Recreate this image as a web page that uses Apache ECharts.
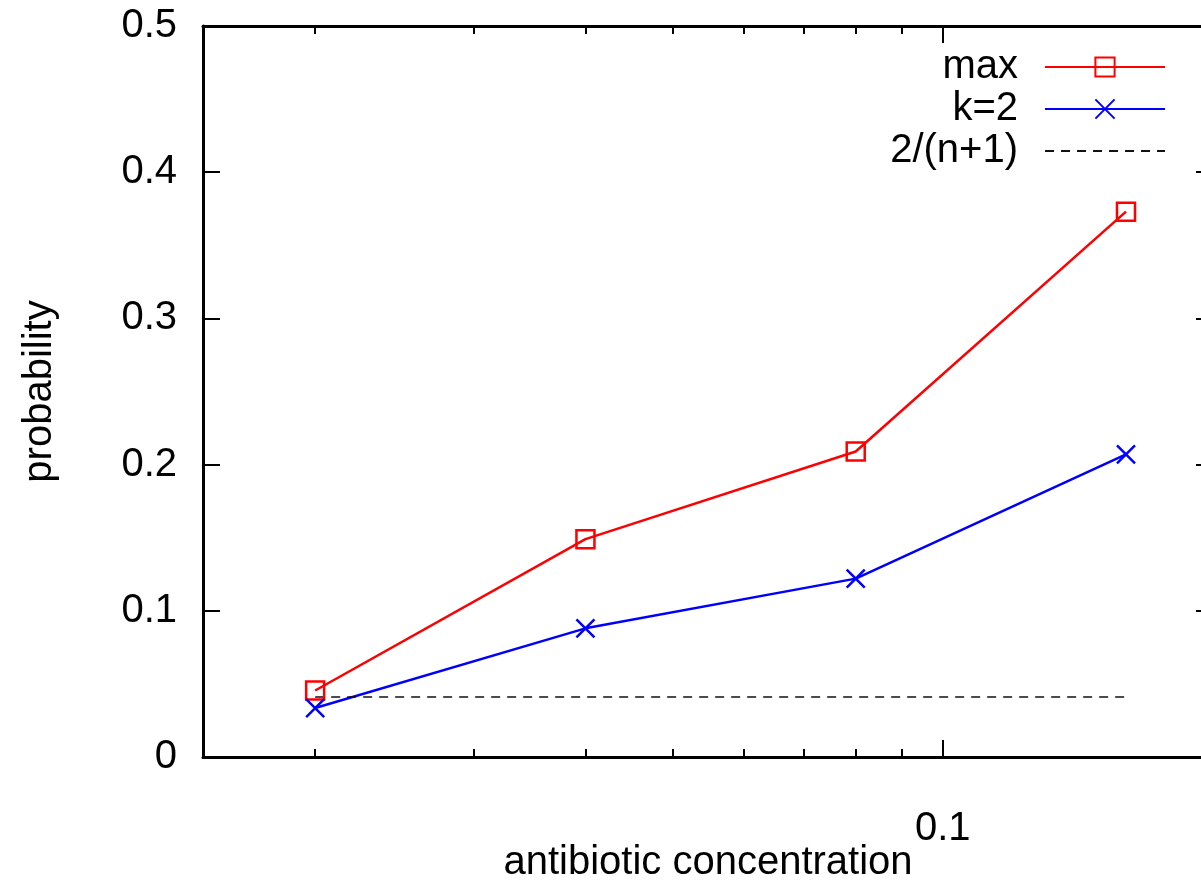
<!DOCTYPE html>
<html><head><meta charset="utf-8">
<script src="https://cdn.jsdelivr.net/npm/echarts@6/dist/echarts.min.js"></script>
<style>html,body{margin:0;padding:0;background:#fff}#c{width:1201px;height:880px}</style>
</head><body><div id="c"></div>
<script>
const concentrations = [0.02, 0.04, 0.08, 0.16];
const maxValues = [0.0455, 0.149, 0.209, 0.373];
const k2Values = [0.0335, 0.088, 0.122, 0.207];
const baselineValue = 0.041; // 2/(n+1)
const majorXTicks = [0.1];
const minorXTicks = [0.02, 0.03, 0.04, 0.05, 0.06, 0.07, 0.08, 0.09];
const seriesNames = ['max', 'k=2', '2/(n+1)'];

const FONT = 'Liberation Sans, Arial, Helvetica, sans-serif';
const FS = 40;
const xMin = 0.015, xMax = 0.2;

function xAxisBase(pos, showLine, ticks, len, labels) {
  return {
    type: 'log', logBase: 10, min: xMin, max: xMax, position: pos, gridIndex: 0,
    axisLine: {show: showLine, lineStyle: {color: '#000', width: 3}},
    axisTick: {show: true, inside: true, length: len, customValues: ticks, lineStyle: {color: '#000', width: 2}},
    axisLabel: labels ? {show: true, customValues: majorXTicks, color: '#000', fontFamily: FONT, fontSize: FS, margin: 52,
      formatter: v => String(+(+v).toPrecision(6))} : {show: false},
    splitLine: {show: false}, minorTick: {show: false}, minorSplitLine: {show: false}
  };
}

const xAxes = [
  Object.assign(xAxisBase('bottom', true, majorXTicks, 17, true), {
    name: 'antibiotic concentration', nameLocation: 'middle', nameGap: 86, nameMoveOverlap: false,
    nameTextStyle: {color: '#000', fontFamily: FONT, fontSize: FS}
  }),
  xAxisBase('bottom', false, minorXTicks, 8, false),
  xAxisBase('top', true, majorXTicks, 17, false),
  xAxisBase('top', false, minorXTicks, 8, false)
];

const yAxes = [
  {type: 'value', min: 0, max: 0.5, interval: 0.1, position: 'left',
   name: 'probability', nameLocation: 'middle', nameGap: 143, nameMoveOverlap: false,
   nameTextStyle: {color: '#000', fontFamily: FONT, fontSize: FS},
   axisLine: {show: true, lineStyle: {color: '#000', width: 3}},
   axisTick: {show: true, inside: true, length: 17, lineStyle: {color: '#000', width: 2}},
   axisLabel: {color: '#000', fontFamily: FONT, fontSize: FS, margin: 26},
   splitLine: {show: false}},
  {type: 'value', min: 0, max: 0.5, interval: 0.1, position: 'right',
   axisLine: {show: true, lineStyle: {color: '#000', width: 3}},
   axisTick: {show: true, inside: true, length: 17, lineStyle: {color: '#000', width: 2}},
   axisLabel: {show: false}, splitLine: {show: false}}
];

const chart = echarts.init(document.getElementById('c'), null, {renderer: 'canvas'});
chart.setOption({
  animation: false,
  backgroundColor: '#fff',
  grid: {left: 203, top: 26, width: 1010, height: 731, containLabel: false, outerBoundsMode: 'none'},
  xAxis: xAxes,
  yAxis: yAxes,
  legend: {
    orient: 'vertical', right: 30, top: 42, align: 'right',
    itemWidth: 120, itemHeight: 24, itemGap: 2,
    textStyle: {color: '#000', fontFamily: FONT, fontSize: FS, padding: [0, 22, 0, 0]},
    data: [
      {name: seriesNames[0]},
      {name: seriesNames[1]},
      {name: seriesNames[2], itemStyle: {color: 'rgba(0,0,0,0)', borderColor: 'rgba(0,0,0,0)', opacity: 0}}
    ]
  },
  series: [
    {name: seriesNames[0], type: 'line', xAxisIndex: 0, yAxisIndex: 0,
     data: concentrations.map((c, i) => [c, maxValues[i]]),
     symbol: 'rect', symbolSize: 18,
     lineStyle: {color: '#ff0000', width: 2.5},
     itemStyle: {color: 'rgba(255,255,255,0)', borderColor: '#ff0000', borderWidth: 2.5}},
    {name: seriesNames[1], type: 'line', xAxisIndex: 0, yAxisIndex: 0,
     data: concentrations.map((c, i) => [c, k2Values[i]]),
     symbol: 'path://M0,0L10,10M10,0L0,10', symbolSize: 18,
     lineStyle: {color: '#0000ff', width: 2.5},
     itemStyle: {color: '#0000ff', borderColor: '#0000ff', borderWidth: 2.5}},
    {name: seriesNames[2], type: 'line', xAxisIndex: 0, yAxisIndex: 0,
     data: [[concentrations[0], baselineValue], [concentrations[concentrations.length - 1], baselineValue]],
     symbol: 'none', showSymbol: false,
     lineStyle: {color: '#111', width: 1.5, type: [9, 7]},
     itemStyle: {color: '#111'}}
  ]
});
</script></body></html>
